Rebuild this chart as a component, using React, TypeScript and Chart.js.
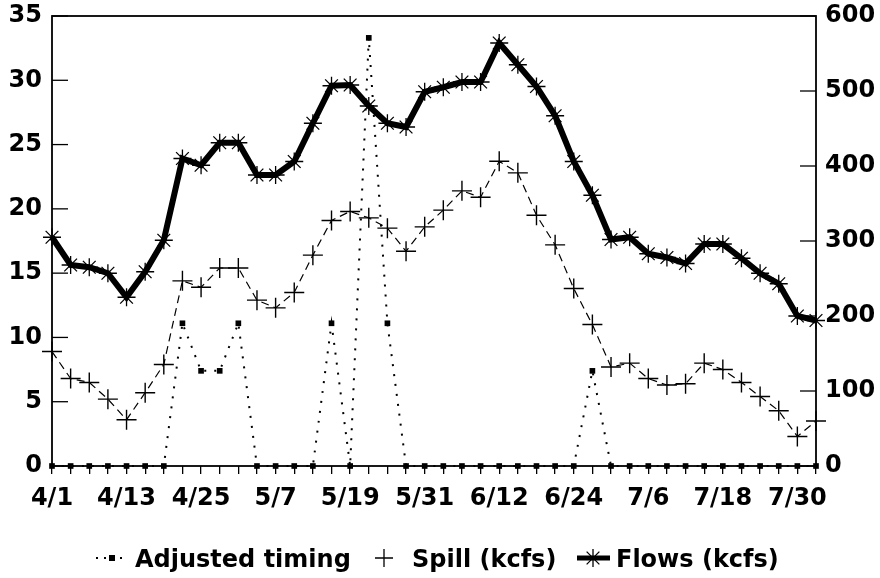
import { useEffect, useRef } from 'react';
import { Chart, registerables } from 'chart.js';

Chart.register(...registerables);

const dates = [
  '4/1', '4/4', '4/7', '4/10', '4/13', '4/16', '4/19', '4/22', '4/25', '4/28',
  '5/1', '5/4', '5/7', '5/10', '5/13', '5/16', '5/19', '5/22', '5/25', '5/28', '5/31',
  '6/3', '6/6', '6/9', '6/12', '6/15', '6/18', '6/21', '6/24', '6/27', '6/30',
  '7/3', '7/6', '7/9', '7/12', '7/15', '7/18', '7/21', '7/24', '7/27', '7/30', '8/2',
];

const tickLabels = ['4/1', '4/13', '4/25', '5/7', '5/19', '5/31', '6/12', '6/24', '7/6', '7/18', '7/30'];

const adjustedTiming = [
  0, 0, 0, 0, 0, 0, 0, 11.1, 7.4, 7.4,
  11.1, 0, 0, 0, 0, 11.1, 0, 33.3, 11.1, 0, 0,
  0, 0, 0, 0, 0, 0, 0, 0, 7.4, 0,
  0, 0, 0, 0, 0, 0, 0, 0, 0, 0, 0,
];

const spill = [
  8.9, 6.8, 6.5, 5.2, 3.6, 5.7, 7.9, 14.4, 13.9, 15.4,
  15.4, 12.9, 12.3, 13.5, 16.4, 19.1, 19.8, 19.3, 18.5, 16.7, 18.6,
  19.9, 21.4, 20.9, 23.7, 22.8, 19.5, 17.2, 13.8, 11.0, 7.7,
  8.0, 6.8, 6.3, 6.4, 8.0, 7.5, 6.5, 5.4, 4.3, 2.3, 3.5,
];

const flows = [
  305, 268, 265, 257, 225, 259, 301, 410, 401, 431,
  431, 388, 388, 406, 457, 507, 508, 480, 457, 452, 499,
  505, 512, 512, 564, 535, 506, 467, 406, 361, 302,
  305, 283, 278, 270, 296, 296, 277, 257, 243, 200, 194,
];

const seriesLabels = ['Adjusted timing', 'Spill (kcfs)', 'Flows (kcfs)'];

const FONT_FAMILY = "'DejaVu Sans', sans-serif";
const tickFont = { family: FONT_FAMILY, size: 24, weight: 'bold' as const };

const framePlugin = {
  id: 'frame',
  beforeDatasetsDraw(chart: any) {
    const { ctx, chartArea: a, scales } = chart;
    ctx.save();
    ctx.strokeStyle = '#000';
    ctx.lineWidth = 1.8;
    ctx.strokeRect(a.left, a.top, a.right - a.left, a.bottom - a.top);
    ctx.lineWidth = 1.3;
    const y = scales.y;
    y.ticks.forEach((t: any) => {
      const py = y.getPixelForValue(t.value);
      ctx.beginPath();
      ctx.moveTo(a.left, py);
      ctx.lineTo(a.left + 16, py);
      ctx.stroke();
    });
    const y1 = scales.y1;
    y1.ticks.forEach((t: any) => {
      const py = y1.getPixelForValue(t.value);
      ctx.beginPath();
      ctx.moveTo(a.right - 16, py);
      ctx.lineTo(a.right, py);
      ctx.stroke();
    });
    ctx.restore();
  },
};

const legendPlugin = {
  id: 'customLegend',
  afterDraw(chart: any) {
    const { ctx } = chart;
    const baseline = 567;
    const my = 558;
    ctx.save();
    ctx.fillStyle = '#000';
    ctx.strokeStyle = '#000';
    ctx.font = `bold 24px ${FONT_FAMILY}`;
    ctx.textBaseline = 'alphabetic';
    ctx.textAlign = 'left';

    // Adjusted timing marker
    ctx.lineWidth = 2;
    ctx.setLineDash([2, 6]);
    ctx.beginPath();
    ctx.moveTo(96, my);
    ctx.lineTo(128, my);
    ctx.stroke();
    ctx.setLineDash([]);
    ctx.fillRect(109, my - 3, 6, 6);
    ctx.fillText(seriesLabels[0], 135, baseline);

    // Spill marker
    ctx.lineWidth = 1.3;
    ctx.beginPath();
    ctx.moveTo(375, my);
    ctx.lineTo(393, my);
    ctx.moveTo(384, my - 9);
    ctx.lineTo(384, my + 9);
    ctx.stroke();
    ctx.fillText(seriesLabels[1], 412, baseline);

    // Flows marker
    ctx.lineWidth = 5;
    ctx.beginPath();
    ctx.moveTo(577, my);
    ctx.lineTo(610, my);
    ctx.stroke();
    ctx.lineWidth = 1.3;
    const cx = 593;
    const r = 9;
    const d = r * Math.SQRT1_2;
    ctx.beginPath();
    ctx.moveTo(cx - d, my - d);
    ctx.lineTo(cx + d, my + d);
    ctx.moveTo(cx - d, my + d);
    ctx.lineTo(cx + d, my - d);
    ctx.moveTo(cx, my - r);
    ctx.lineTo(cx, my + r);
    ctx.stroke();
    ctx.fillText(seriesLabels[2], 616, baseline);
    ctx.restore();
  },
};

export default function App() {
  const canvasRef = useRef<HTMLCanvasElement | null>(null);

  useEffect(() => {
    document.body.style.margin = '0';
    const canvas = canvasRef.current;
    if (!canvas) return;
    const chart = new Chart(canvas, {
      type: 'line',
      data: {
        labels: dates,
        datasets: [
          {
            label: seriesLabels[2],
            data: flows,
            yAxisID: 'y1',
            borderColor: '#000',
            backgroundColor: '#000',
            borderWidth: 6,
            tension: 0,
            pointStyle: 'star',
            pointRadius: 9,
            pointBorderWidth: 1.3,
            pointBorderColor: '#000',
            clip: false as any,
            order: 1,
          },
          {
            label: seriesLabels[1],
            data: spill,
            yAxisID: 'y',
            borderColor: '#000',
            backgroundColor: '#000',
            borderWidth: 1.2,
            borderDash: [8, 5],
            tension: 0,
            pointStyle: 'cross',
            pointRadius: 10,
            pointBorderWidth: 1.4,
            pointBorderColor: '#000',
            clip: false as any,
            order: 2,
          },
          {
            label: seriesLabels[0],
            data: adjustedTiming,
            yAxisID: 'y',
            borderColor: '#000',
            backgroundColor: '#000',
            borderWidth: 2,
            borderDash: [2, 8],
            tension: 0,
            pointStyle: 'rect',
            pointRadius: 4,
            pointBorderWidth: 0,
            pointBackgroundColor: '#000',
            clip: false as any,
            order: 3,
          },
        ],
      },
      options: {
        responsive: false,
        animation: false,
        layout: { padding: { top: 16, left: 0, right: 0, bottom: 0 } },
        plugins: {
          legend: { display: false },
          tooltip: { enabled: false },
          title: { display: false },
        },
        scales: {
          x: {
            type: 'category',
            offset: false,
            border: { display: false },
            grid: {
              display: true,
              drawOnChartArea: false,
              drawTicks: true,
              tickLength: 8,
              color: '#000',
              lineWidth: 1.3,
            },
            ticks: {
              autoSkip: false,
              maxRotation: 0,
              minRotation: 0,
              padding: 10,
              color: '#000',
              font: tickFont,
              callback: (_v: any, i: number) => (tickLabels.includes(dates[i]) ? dates[i] : ''),
            },
            afterFit: (s: any) => {
              s.height = 112;
              s.paddingLeft = 0;
              s.paddingRight = 0;
            },
          },
          y: {
            position: 'left',
            min: 0,
            max: 35,
            border: { display: false },
            grid: { display: false, drawTicks: false },
            ticks: { stepSize: 5, padding: 10, color: '#000', font: tickFont },
            afterFit: (s: any) => {
              s.width = 52;
              s.paddingTop = 0;
              s.paddingBottom = 0;
            },
          },
          y1: {
            position: 'right',
            min: 0,
            max: 600,
            border: { display: false },
            grid: { display: false, drawTicks: false },
            ticks: { stepSize: 100, padding: 9, color: '#000', font: tickFont },
            afterFit: (s: any) => {
              s.width = 64;
              s.paddingTop = 0;
              s.paddingBottom = 0;
            },
          },
        },
      },
      plugins: [framePlugin, legendPlugin],
    });
    return () => chart.destroy();
  }, []);

  return (
    <div style={{ width: 880, height: 578 }}>
      <canvas ref={canvasRef} width={880} height={578} />
    </div>
  );
}
